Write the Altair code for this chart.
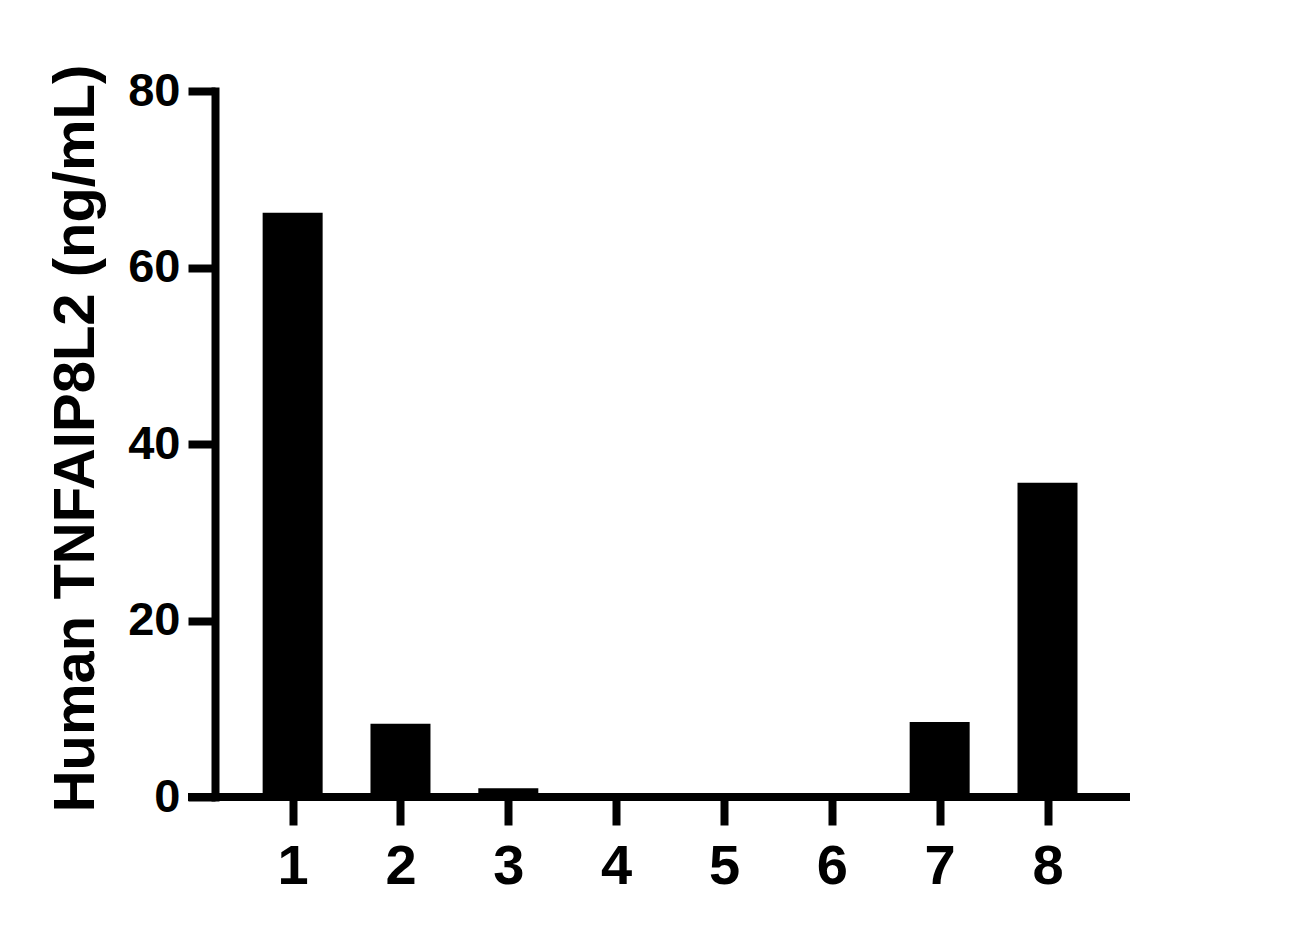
import altair as alt
import pandas as pd

samples = [1, 2, 3, 4, 5, 6, 7, 8]
values = [66.2, 8.3, 1.0, 0.0, 0.0, 0.0, 8.5, 35.6]

df = pd.DataFrame({"sample": samples, "value": values})

W, H = 915, 706
FONT = "Liberation Sans"

xscale = alt.Scale(domain=[0.28, 8.765], nice=False, zero=False, padding=0)
yscale = alt.Scale(domain=[0, 80], nice=False, padding=0)

bars = alt.Chart(df).mark_bar(color="black", size=60).encode(
    x=alt.X("sample:Q", scale=xscale,
            axis=alt.Axis(values=samples, format="d", title=None, domain=False,
                          grid=False, tickSize=28, tickWidth=8, tickColor="black",
                          labelFontSize=56, labelFont=FONT, labelFontWeight="bold",
                          labelColor="black", labelPadding=14, labelFlush=False)),
    y=alt.Y("value:Q", scale=yscale,
            axis=alt.Axis(values=[0, 20, 40, 60, 80], title="Human TNFAIP8L2 (ng/mL)",
                          grid=False, domainWidth=8, domainColor="black", domainCap="square",
                          tickSize=27, tickWidth=8, tickColor="black",
                          labelFontSize=47, labelFont=FONT, labelFontWeight="bold",
                          labelColor="black", labelPadding=8, labelFlush=False,
                          titleFontSize=58, titleFont=FONT, titleFontWeight="bold",
                          titleColor="black", titlePadding=22, titleY=347)),
)

baseline = alt.Chart(df).mark_rule(color="black", strokeWidth=8).encode(
    x=alt.value(-27), x2=alt.value(W), y=alt.datum(0, scale=yscale)
)

chart = alt.layer(bars, baseline).properties(
    width=W, height=H,
    background="white",
    autosize=alt.AutoSizeParams(type="none"),
    padding={"left": 207, "top": 83, "right": 20, "bottom": 110},
).configure_view(stroke="transparent", strokeWidth=0)

chart.save("out.html", embed_options={"renderer": "svg", "actions": False})
